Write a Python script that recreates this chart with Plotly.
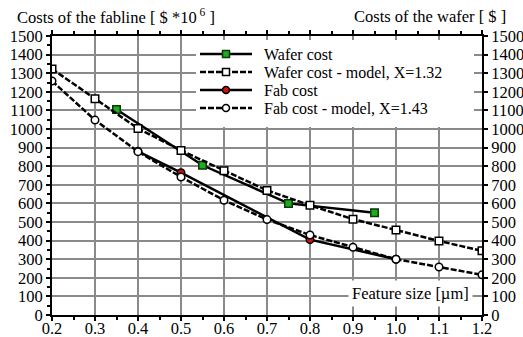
import plotly.graph_objects as go

# Data
wafer_x = [0.35, 0.55, 0.75, 0.95]
wafer_y = [1105, 805, 600, 550]

wafer_model_x = [0.2, 0.3, 0.4, 0.5, 0.6, 0.7, 0.8, 0.9, 1.0, 1.1, 1.2]
wafer_model_y = [1323, 1163, 1003, 885, 776, 670, 590, 515, 457, 398, 345]

fab_x = [0.4, 0.5, 0.8, 1.0]
fab_y = [880, 765, 405, 300]

fab_model_x = [0.2, 0.3, 0.4, 0.5, 0.6, 0.7, 0.8, 0.9, 1.0, 1.1, 1.2]
fab_model_y = [1258, 1048, 878, 742, 617, 513, 430, 364, 300, 258, 216]

x_ticks = [0.2, 0.3, 0.4, 0.5, 0.6, 0.7, 0.8, 0.9, 1.0, 1.1, 1.2]
x_tick_labels = ["0.2", "0.3", "0.4", "0.5", "0.6", "0.7", "0.8", "0.9", "1.0", "1.1", "1.2"]
y_ticks = list(range(0, 1501, 100))

series_names = ["Wafer cost", "Wafer cost - model, X=1.32", "Fab cost", "Fab cost - model, X=1.43"]

FONT = "Liberation Serif"
FS = 16.5
W, H = 523, 337
ML, MR, MT, MB = 52, 41, 36, 22
PW, PH = W - ML - MR, H - MT - MB

def px(p):
    return (p - ML) / PW

def py(p):
    return (H - MB - p) / PH

DASH = "6px,2px"
styles = [
    dict(dash="solid", symbol="square", fill="#1faa1f", edge="#0a3a0a"),
    dict(dash=DASH, symbol="square", fill="white", edge="black"),
    dict(dash="solid", symbol="circle", fill="#cc1111", edge="black"),
    dict(dash=DASH, symbol="circle", fill="white", edge="black"),
]

fig = go.Figure()
series = [(wafer_x, wafer_y, "y2"), (wafer_model_x, wafer_model_y, "y2"),
          (fab_x, fab_y, "y"), (fab_model_x, fab_model_y, "y")]
for (xs, ys, ax), name, st in zip(series, series_names, styles):
    fig.add_trace(go.Scatter(
        x=xs, y=ys, name=name, mode="lines+markers", yaxis=ax, showlegend=False,
        line=dict(color="black", width=2.5, dash=st["dash"]),
        marker=dict(symbol=st["symbol"], size=7.5, color=st["fill"], line=dict(color=st["edge"], width=1.5)),
    ))

# manual legend (box, samples, labels)
shapes = [dict(type="rect", xref="paper", yref="paper", layer="above",
               x0=px(196), x1=px(474), y0=py(127), y1=py(40),
               fillcolor="white", line=dict(width=0))]
annotations = []
rows = [54, 72, 90, 108]
for row, name, st in zip(rows, series_names, styles):
    shapes.append(dict(type="line", xref="paper", yref="paper", layer="above",
                       x0=px(200), x1=px(252), y0=py(row), y1=py(row),
                       line=dict(color="black", width=2.5, dash=st["dash"])))
    r = 3.5
    shapes.append(dict(type="rect" if st["symbol"] == "square" else "circle",
                       xref="paper", yref="paper", layer="above",
                       x0=px(226 - r), x1=px(226 + r), y0=py(row + r), y1=py(row - r),
                       fillcolor=st["fill"], line=dict(color=st["edge"], width=1.5)))
    annotations.append(dict(text=name, xref="paper", yref="paper", x=px(262), y=py(row),
                            xanchor="left", yanchor="middle", showarrow=False,
                            font=dict(family=FONT, size=16, color="black")))

annotations += [
    dict(text="Costs of the fabline [ $ *10<sup> 6</sup> ]", xref="paper", yref="paper",
         x=px(15), y=py(17), xanchor="left", yanchor="middle", showarrow=False,
         font=dict(family=FONT, size=FS, color="black")),
    dict(text="Costs of the wafer [ $ ]", xref="paper", yref="paper",
         x=px(508), y=py(17), xanchor="right", yanchor="middle", showarrow=False,
         font=dict(family=FONT, size=FS, color="black")),
    dict(text="Feature size [µm]", xref="paper", yref="paper",
         x=px(473), y=py(293), xanchor="right", yanchor="middle", showarrow=False,
         bgcolor="white", borderpad=3,
         font=dict(family=FONT, size=FS, color="black")),
]

axis_font = dict(family=FONT, size=FS, color="black")

fig.update_layout(
    width=W, height=H,
    margin=dict(l=ML, r=MR, t=MT, b=MB),
    paper_bgcolor="white", plot_bgcolor="white",
    font=dict(family=FONT, size=FS, color="black"),
    showlegend=False,
    xaxis=dict(
        range=[0.2, 1.2], tickvals=x_ticks, ticktext=x_tick_labels, automargin=False,
        showgrid=True, gridcolor="#8a8a8a", gridwidth=2,
        showline=True, linecolor="black", linewidth=2, mirror="ticks",
        ticks="outside", ticklen=4, tickwidth=2, tickcolor="black", ticklabelstandoff=-7,
        minor=dict(ticks="outside", dtick=0.05, ticklen=3, tickcolor="black", tickwidth=2, showgrid=False),
        tickfont=axis_font, zeroline=False,
    ),
    yaxis=dict(
        range=[0, 1500], tickvals=y_ticks, automargin=False,
        showgrid=True, gridcolor="#8a8a8a", gridwidth=2,
        showline=True, linecolor="black", linewidth=2,
        ticks="outside", ticklen=4, tickwidth=2, tickcolor="black",
        minor=dict(ticks="outside", dtick=50, ticklen=3, tickcolor="black", tickwidth=2, showgrid=False),
        tickfont=axis_font, zeroline=False,
    ),
    yaxis2=dict(
        range=[0, 1500], tickvals=y_ticks, overlaying="y", side="right", automargin=False,
        showgrid=False,
        showline=True, linecolor="black", linewidth=2,
        ticks="outside", ticklen=4, tickwidth=2, tickcolor="black",
        tickfont=axis_font, zeroline=False,
    ),
    shapes=shapes,
    annotations=annotations,
)

fig.write_html("out.html")
